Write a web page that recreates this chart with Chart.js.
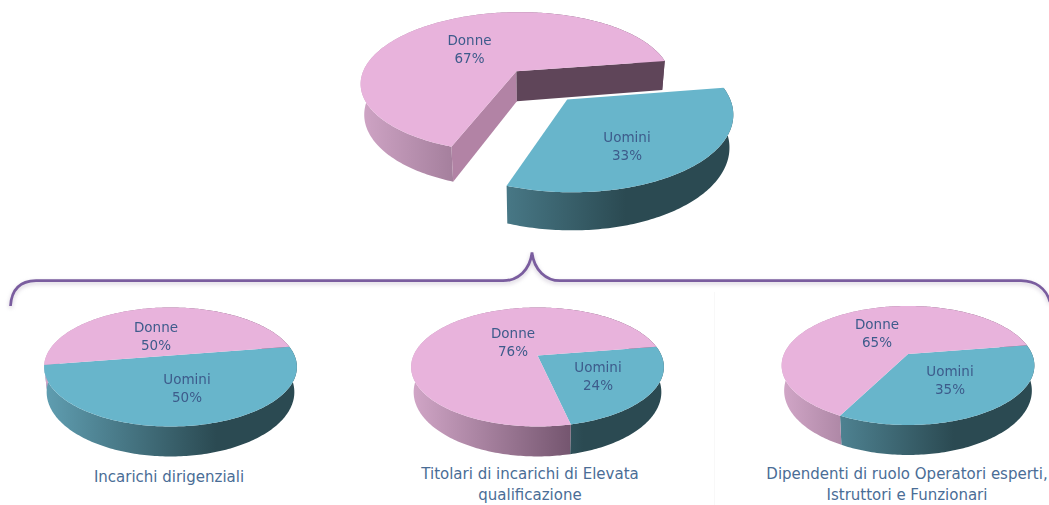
<!DOCTYPE html>
<html><head><meta charset="utf-8">
<style>
html,body{margin:0;padding:0;background:#fff;width:1049px;height:505px;overflow:hidden;}
canvas{position:absolute;}
.cap{position:absolute;transform:translateX(-50%);text-align:center;white-space:nowrap;color:#4a6d96;font:15px/21px "DejaVu Sans",sans-serif;}
svg{position:absolute;left:0;top:0;}
</style>
<script src="https://cdn.jsdelivr.net/npm/chart.js@4"></script>
</head><body>
<svg width="1049" height="505"><path d="M714.5 292 V505" stroke="#f8f8f8" stroke-width="1" fill="none"/><path d="M10.5 306 C11.5 290 20 281 36 280.7 L503 280.7 C518 280.7 530 270 532 252.5 C534 270 546 280.7 560 280.7 L1021 280.7 C1035 281 1046 288 1050 302" fill="none" stroke="#7a5d9f" stroke-width="2.7" style="filter:drop-shadow(0 2px 2px rgba(120,100,140,.35))"/></svg>
<div class="cap" style="left:169px;top:467px">Incarichi dirigenziali</div>
<div class="cap" style="left:530px;top:464px">Titolari di incarichi di Elevata<br>qualificazione</div>
<div class="cap" style="left:907px;top:464px">Dipendenti di ruolo Operatori esperti,<br>Istruttori e Funzionari</div>
<script>
const categories = ['Uomini', 'Donne'];
const totalValues = [33, 67];
const dirigentiValues = [50, 50];
const elevataValues = [24, 76];
const dipendentiValues = [35, 65];

const sliceStyle = [
  {face:'#68b5cb', light:'#5f9db0', dark:'#2b4a52', startWall:'#2b4a52', endWall:'#2b4a52'},
  {face:'#e8b3dc', light:'#d0a5c6', dark:'#6d4f68', startWall:'#b283a5', endWall:'#5f4559'}
];
const D2R = Math.PI/180;

function project(arc, cfg, theta, r, lower){
  const R = arc.outerRadius;
  const off = arc.options.offset || 0, mid = (arc.startAngle+arc.endAngle)/2;
  const x = (off*Math.cos(mid) + r*R*Math.cos(theta))/R;
  const y = (off*Math.sin(mid) + r*R*Math.sin(theta))/R;
  const s = 1/(1-cfg.p*y);
  let X = R*x*s, Y = R*cfg.k*y*s;
  if(lower){ X *= cfg.f; Y += cfg.d*R*s; }
  return [arc.x+X, arc.y+Y];
}
function rimPath(ctx, arc, cfg, from, to, lower, move){
  const n = Math.max(2, Math.ceil(Math.abs(to-from)/(D2R)));
  for(let i=0;i<=n;i++){
    const t = from+(to-from)*i/n, p = project(arc,cfg,t,1,lower);
    if(i===0 && move) ctx.moveTo(p[0],p[1]); else ctx.lineTo(p[0],p[1]);
  }
}
Chart.ArcElement.prototype.draw = function(ctx){
  const cfg = this.$context.chart.options.plugins.pie3d;
  ctx.save();
  ctx.beginPath();
  const a = project(this,cfg,0,0,false);
  ctx.moveTo(a[0],a[1]);
  rimPath(ctx,this,cfg,this.startAngle,this.endAngle,false,false);
  ctx.closePath();
  ctx.fillStyle = this.options.backgroundColor;
  ctx.fill();
  ctx.restore();
};

const pie3d = {
  id:'pie3d',
  beforeDatasetsDraw(chart,args,cfg){
    const ctx = chart.ctx, arcs = chart.getDatasetMeta(0).data;
    arcs.forEach((arc,i)=>{
      const st = sliceStyle[i], R = arc.outerRadius, c0 = project(arc,cfg,0,0,false);
      const g = ctx.createLinearGradient(c0[0]-R,0,c0[0]+0.37*R,0);
      g.addColorStop(0,st.light); g.addColorStop(1,st.dark);
      ctx.beginPath();
      rimPath(ctx,arc,cfg,arc.startAngle,arc.endAngle,false,true);
      rimPath(ctx,arc,cfg,arc.endAngle,arc.startAngle,true,false);
      ctx.closePath();
      ctx.fillStyle = g; ctx.fill();
      if(arc.options.offset>0){
        [[arc.startAngle,-Math.PI/2,st.startWall],[arc.endAngle,Math.PI/2,st.endWall]].forEach(w=>{
          if(Math.sin(w[0]+w[1])<=0) return;
          const p=[project(arc,cfg,0,0,false),project(arc,cfg,w[0],1,false),project(arc,cfg,w[0],1,true),project(arc,cfg,0,0,true)];
          ctx.beginPath(); ctx.moveTo(p[0][0],p[0][1]);
          p.slice(1).forEach(q=>ctx.lineTo(q[0],q[1]));
          ctx.closePath(); ctx.fillStyle=w[2]; ctx.fill();
        });
      }
    });
  },
  afterDatasetsDraw(chart,args,cfg){
    const ctx = chart.ctx, ds = chart.data.datasets[0], cx = chart.getDatasetMeta(0).data[0].x, cy = chart.getDatasetMeta(0).data[0].y;
    ctx.save();
    ctx.font = '13.5px "DejaVu Sans",sans-serif';
    ctx.fillStyle = '#3d5b8b';
    ctx.textAlign = 'center'; ctx.textBaseline = 'middle';
    chart.data.labels.forEach((l,i)=>{
      const o = cfg.labelOffsets[i];
      ctx.fillText(l, cx+o[0], cy+o[1]);
      ctx.fillText(ds.data[i]+'%', cx+o[0], cy+o[1]+cfg.lineGap);
    });
    ctx.restore();
  }
};

function makePie(box, values, cfg, offset){
  const c = document.createElement('canvas');
  c.width = box.size; c.height = box.size;
  c.style.cssText = `left:${box.cx-box.size/2}px;top:${box.cy-box.size/2}px;width:${box.size}px;height:${box.size}px`;
  document.body.appendChild(c);
  new Chart(c,{
    type:'pie',
    data:{labels:categories,datasets:[{data:values,backgroundColor:sliceStyle.map(s=>s.face),borderWidth:0,offset:offset}]},
    options:{responsive:false,animation:false,events:[],radius:box.r,rotation:81,
      layout:{padding:0},
      plugins:{legend:{display:false},tooltip:{enabled:false},pie3d:cfg}},
    plugins:[pie3d]
  });
}
const small = {k:.462,p:.193,f:.98,d:.195,lineGap:18};
makePie({cx:541,cy:85,size:500,r:158}, totalValues, {k:.46,p:.16,f:.98,d:.195,lineGap:17.5,labelOffsets:[[86,53.5],[-71.5,-43.5]]}, 39.8);
makePie({cx:170.5,cy:355,size:401,r:124}, dirigentiValues, {...small,labelOffsets:[[16.5,24.5],[-14.5,-27.5]]}, 0);
makePie({cx:537.5,cy:355,size:401,r:124}, elevataValues, {...small,labelOffsets:[[60.5,12.5],[-24.5,-21.5]]}, 0);
makePie({cx:908,cy:354,size:400,r:124}, dipendentiValues, {...small,labelOffsets:[[42,18.5],[-31,-28.5]]}, 0);
</script>
</body></html>
